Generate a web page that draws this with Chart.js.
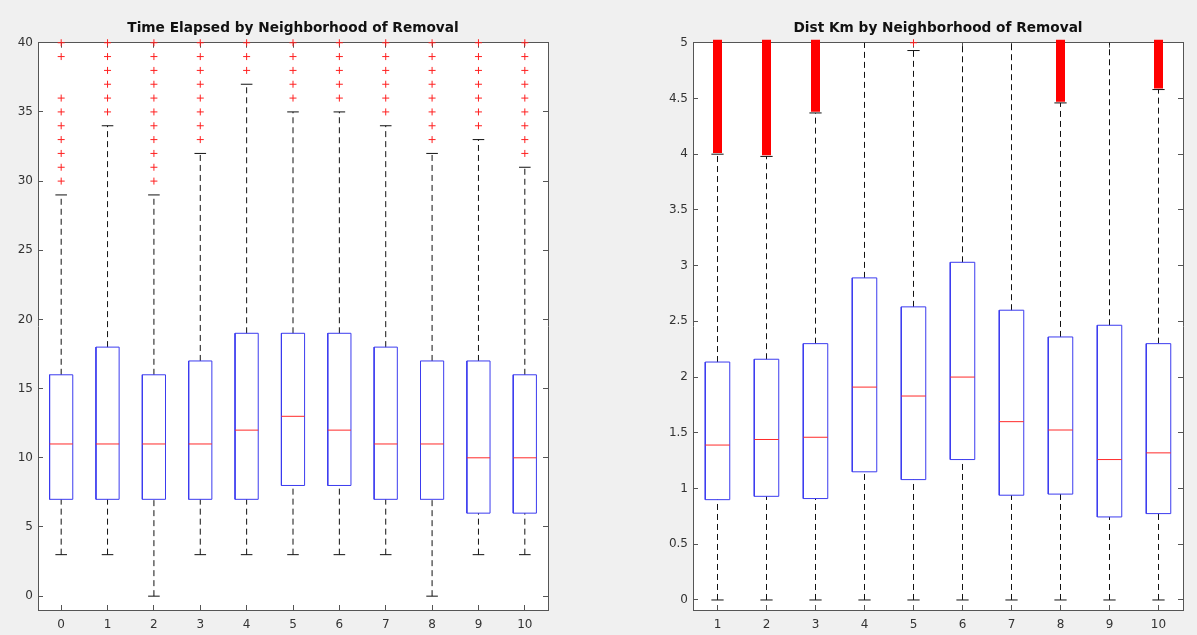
<!DOCTYPE html>
<html>
<head>
<meta charset="utf-8">
<title>Neighborhood of Removal</title>
<script src="https://cdn.jsdelivr.net/npm/chart.js@4.4.1/dist/chart.umd.min.js"></script>
<style>
  html, body { margin: 0; padding: 0; background: #f0f0f0; }
  body { width: 1197px; height: 635px; position: relative; overflow: hidden; }
  .plot { position: absolute; top: 0; }
  #timePlot { left: 0; }
  #distPlot { left: 650px; }
</style>
</head>
<body>
<canvas id="timePlot" class="plot" width="560" height="635"></canvas>
<canvas id="distPlot" class="plot" width="547" height="635"></canvas>
<script>
/*======= Time Elapsed, neighborhoods 0 - 10 =======*/
var timeGroups   = [0, 1, 2, 3, 4, 5, 6, 7, 8, 9, 10];
var timeQ1       = [7, 7, 7, 7, 7, 8, 8, 7, 7, 6, 6];
var timeMedian   = [11, 11, 11, 11, 12, 13, 12, 11, 11, 10, 10];
var timeQ3       = [16, 18, 16, 17, 19, 19, 19, 18, 17, 17, 16];
var timeLow      = [3, 3, 0, 3, 3, 3, 3, 3, 0, 3, 3];
var timeHigh     = [29, 34, 29, 32, 37, 35, 35, 34, 32, 33, 31];
var timeOutliers = [
  [30, 31, 32, 33, 34, 35, 36, 39, 40],
  [35, 36, 37, 38, 39, 40],
  [30, 31, 32, 33, 34, 35, 36, 37, 38, 39, 40],
  [33, 34, 35, 36, 37, 38, 39, 40],
  [38, 39, 40],
  [36, 37, 38, 39, 40],
  [36, 37, 38, 39, 40],
  [35, 36, 37, 38, 39, 40],
  [33, 34, 35, 36, 37, 38, 39, 40],
  [34, 35, 36, 37, 38, 39, 40],
  [32, 33, 34, 35, 36, 37, 38, 39, 40]
];
var timeTicks      = [0, 5, 10, 15, 20, 25, 30, 35, 40];
var timeTickLabels = ['0', '5', '10', '15', '20', '25', '30', '35', '40'];

/*======= Dist Km, neighborhoods 1 - 10 =======*/
var distGroups   = [1, 2, 3, 4, 5, 6, 7, 8, 9, 10];
var distQ1       = [0.90, 0.93, 0.91, 1.15, 1.08, 1.26, 0.94, 0.95, 0.745, 0.775];
var distMedian   = [1.39, 1.44, 1.46, 1.91, 1.83, 2.00, 1.60, 1.525, 1.26, 1.32];
var distQ3       = [2.135, 2.16, 2.30, 2.89, 2.63, 3.03, 2.60, 2.36, 2.465, 2.30];
var distLow      = [0, 0, 0, 0, 0, 0, 0, 0, 0, 0];
var distHigh     = [4.0, 3.98, 4.37, 5.2, 4.93, 5.2, 5.2, 4.46, 5.2, 4.58];
// outliers packed so close together they read as a solid run
var distOutlierFrom = [4.01, 3.99, 4.38, null, null, null, null, 4.47, null, 4.59];
var distOutlierTo   = [5.2, 5.2, 5.2, null, null, null, null, 5.2, null, 5.2];
var distOutliers    = [[], [], [], [], [5.0], [], [], [], [], []];
var distTicks      = [0, 0.5, 1, 1.5, 2, 2.5, 3, 3.5, 4, 4.5, 5];
var distTickLabels = ['0', '0.5', '1', '1.5', '2', '2.5', '3', '3.5', '4', '4.5', '5'];

var BOX_HALF = 0.25;
var CAP_HALF = 0.125;
var FONT = '"DejaVu Sans", Verdana, sans-serif';
var AXIS_COLOR = '#555';

// whiskers, caps, boxes and medians as broken polylines (null y = pen up)
function boxDatasets(groups, q1, med, q3, lo, hi) {
  var whisk = [], caps = [], boxes = [], meds = [];
  groups.forEach(function(g, i){
    whisk.push({x: g, y: q3[i]}, {x: g, y: hi[i]}, {x: g, y: null},
               {x: g, y: lo[i]}, {x: g, y: q1[i]}, {x: g, y: null});
    caps.push({x: g - CAP_HALF, y: hi[i]}, {x: g + CAP_HALF, y: hi[i]}, {x: g, y: null},
              {x: g - CAP_HALF, y: lo[i]}, {x: g + CAP_HALF, y: lo[i]}, {x: g, y: null});
    boxes.push({x: g - BOX_HALF, y: q1[i]}, {x: g + BOX_HALF, y: q1[i]},
               {x: g + BOX_HALF, y: q3[i]}, {x: g - BOX_HALF, y: q3[i]},
               {x: g - BOX_HALF, y: q1[i]}, {x: g, y: null});
    meds.push({x: g - BOX_HALF, y: med[i]}, {x: g + BOX_HALF, y: med[i]}, {x: g, y: null});
  });
  var line = function(data, color, dash){
    return { data: data, showLine: true, pointRadius: 0, borderColor: color,
             borderWidth: 1, borderDash: dash || [], fill: false, tension: 0 };
  };
  return [
    line(meds, '#ff2a2a'),
    line(boxes, '#3b3bef'),
    line(caps, '#111'),
    line(whisk, '#111', [6, 4])
  ];
}

function outlierDataset(groups, outliers) {
  var pts = [];
  groups.forEach(function(g, i){
    outliers[i].forEach(function(v){ pts.push({x: g, y: v}); });
  });
  return { data: pts, showLine: false, pointStyle: 'cross', pointRadius: 3.5,
           borderColor: '#ff2020', backgroundColor: '#ff2020', borderWidth: 1, clip: 4 };
}

function outlierRunDataset(groups, from, to) {
  var pts = [];
  groups.forEach(function(g, i){
    if (from[i] === null) return;
    pts.push({x: g, y: from[i]}, {x: g, y: to[i]}, {x: g, y: null});
  });
  return { data: pts, showLine: true, pointRadius: 0, borderColor: '#ff0000',
           borderWidth: 9, borderCapStyle: 'butt', fill: false, clip: 3 };
}

function makeAxes(groups, xmin, xmax, ymin, ymax, ticks, labels, leftW, rightW) {
  var grid = { drawOnChartArea: false, tickLength: -5, color: AXIS_COLOR, lineWidth: 1 };
  var border = { color: AXIS_COLOR, width: 1 };
  var xTicks = function(s){ s.ticks = groups.map(function(v){ return {value: v}; }); };
  var yTicks = function(s){ s.ticks = ticks.map(function(v){ return {value: v}; }); };
  var tickFont = { family: FONT, size: 12 };
  return {
    x: { type: 'linear', position: 'bottom', min: xmin, max: xmax,
         afterBuildTicks: xTicks, afterFit: function(s){ s.height = 25; },
         grid: grid, border: border,
         ticks: { padding: 13, font: tickFont, color: '#333', maxRotation: 0,
                  callback: function(v){ return String(v); } } },
    xTop: { type: 'linear', position: 'top', min: xmin, max: xmax,
            afterBuildTicks: xTicks, afterFit: function(s){ s.height = 0; },
            grid: grid, border: border, ticks: { display: false } },
    y: { type: 'linear', position: 'left', min: ymin, max: ymax,
         afterBuildTicks: yTicks, afterFit: function(s){ s.width = leftW; },
         grid: grid, border: border,
         ticks: { padding: 10, font: tickFont, color: '#333',
                  callback: function(v, i){ return labels[i]; } } },
    yRight: { type: 'linear', position: 'right', min: ymin, max: ymax,
              afterBuildTicks: yTicks, afterFit: function(s){ s.width = rightW; },
              grid: grid, border: border, ticks: { display: false } }
  };
}

function boxChart(id, title, datasets, scales) {
  return new Chart(document.getElementById(id), {
    type: 'scatter',
    data: { datasets: datasets },
    options: {
      responsive: false,
      animation: false,
      events: [],
      devicePixelRatio: 1,
      layout: { padding: 0 },
      scales: scales,
      plugins: {
        legend: { display: false },
        tooltip: { enabled: false },
        title: { display: true, text: title, fullSize: false, color: '#111',
                 font: { family: FONT, size: 13.7, weight: 'bold' },
                 padding: { top: 20.5, bottom: 5.8 } }
      }
    },
    plugins: [{
      id: 'whiteArea',
      beforeDraw: function(chart){
        var a = chart.chartArea, ctx = chart.ctx;
        ctx.save();
        ctx.fillStyle = '#ffffff';
        ctx.fillRect(a.left, a.top, a.right - a.left, a.bottom - a.top);
        ctx.restore();
      }
    }]
  });
}

Chart.defaults.font.family = FONT;

boxChart('timePlot', 'Time Elapsed by Neighborhood of Removal',
  [outlierDataset(timeGroups, timeOutliers)]
    .concat(boxDatasets(timeGroups, timeQ1, timeMedian, timeQ3, timeLow, timeHigh)),
  makeAxes(timeGroups, -0.5, 10.5, -1, 40, timeTicks, timeTickLabels, 38, 12));

boxChart('distPlot', 'Dist Km by Neighborhood of Removal',
  [outlierDataset(distGroups, distOutliers),
   outlierRunDataset(distGroups, distOutlierFrom, distOutlierTo)]
    .concat(boxDatasets(distGroups, distQ1, distMedian, distQ3, distLow, distHigh)),
  makeAxes(distGroups, 0.5, 10.5, -0.09, 5, distTicks, distTickLabels, 43, 14));
</script>
</body>
</html>
